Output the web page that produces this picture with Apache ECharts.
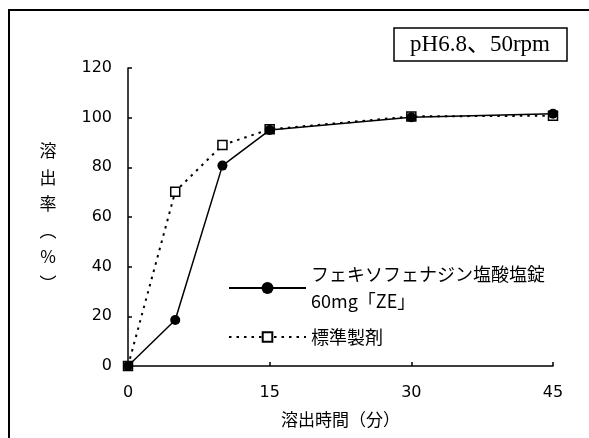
<!DOCTYPE html>
<html>
<head>
<meta charset="utf-8">
<script src="https://cdn.jsdelivr.net/npm/echarts@6/dist/echarts.min.js"></script>
<style>
html,body{margin:0;padding:0;background:#fff;}
#chart{width:589px;height:438px;}
</style>
</head>
<body>
<div id="chart"></div>
<script>
var timePoints = [0, 5, 10, 15, 30, 45];
var testValues = [0, 18.5, 80.7, 95.0, 100.2, 101.6];
var refValues = [0, 70.2, 89.0, 95.3, 100.5, 100.8];
var xTicks = [0, 15, 30, 45];
var yTicks = [0, 20, 40, 60, 80, 100, 120];
var testName = 'フェキソフェナジン塩酸塩錠60mg「ZE」';
var testLegendLabel = 'フェキソフェナジン塩酸塩錠\n60mg「ZE」';
var refName = '標準製剤';
var conditionText = 'pH6.8、50rpm';
var xAxisName = '溶出時間（分）';
var yAxisName = '溶\n出\n率\n︵\n%\n︶';

function pairs(xs, ys) { return xs.map(function (x, i) { return [x, ys[i]]; }); }

var chart = echarts.init(document.getElementById('chart'), null, {renderer: 'canvas'});
var cjk = "'Noto Sans CJK JP', sans-serif";
var numFont = "'DejaVu Sans', sans-serif";

chart.setOption({
  animation: false,
  backgroundColor: '#fff',
  grid: {left: 128, right: 36, top: 68, bottom: 72, containLabel: false},
  xAxis: {
    type: 'value', min: xTicks[0], max: xTicks[xTicks.length - 1], interval: 15,
    name: xAxisName, nameLocation: 'middle', nameGap: 45,
    nameTextStyle: {fontFamily: cjk, fontSize: 17, color: '#000'},
    axisLine: {lineStyle: {color: '#000', width: 1.5}},
    axisTick: {inside: true, length: 4, lineStyle: {color: '#000', width: 1.5}},
    axisLabel: {fontFamily: numFont, fontSize: 16, color: '#000', margin: 19},
    splitLine: {show: false}
  },
  yAxis: {
    type: 'value', min: yTicks[0], max: yTicks[yTicks.length - 1], interval: 20,
    name: yAxisName, nameLocation: 'middle', nameGap: 80, nameRotate: 0,
    nameTextStyle: {fontFamily: cjk, fontSize: 17, color: '#000', lineHeight: 26.6, align: 'center', verticalAlign: 'middle'},
    axisLine: {show: true, lineStyle: {color: '#000', width: 1.5}},
    axisTick: {show: true, inside: true, length: 4, lineStyle: {color: '#000', width: 1.5}},
    axisLabel: {fontFamily: numFont, fontSize: 16, color: '#000', margin: 16},
    splitLine: {show: false}
  },
  legend: [
    {
      data: [testName], orient: 'vertical', left: 228, top: 247.5, padding: 0,
      itemWidth: 77, itemHeight: 15, itemGap: 0,
      formatter: function () { return testLegendLabel; },
      textStyle: {fontFamily: cjk, fontSize: 18, color: '#000', lineHeight: 27, padding: [27, 0, 0, 0]}
    },
    {
      data: [refName], orient: 'vertical', left: 228, top: 326.5, padding: 0,
      itemWidth: 77, itemHeight: 12, itemGap: 0,
      textStyle: {fontFamily: cjk, fontSize: 18, color: '#000', lineHeight: 21}
    }
  ],
  series: [
    {
      name: refName, type: 'line', data: pairs(timePoints, refValues),
      symbol: 'rect', symbolSize: 9,
      lineStyle: {color: '#000', width: 2, type: [2.5, 5]},
      itemStyle: {color: '#fff', borderColor: '#000', borderWidth: 1.5},
      z: 2
    },
    {
      name: testName, type: 'line', data: pairs(timePoints, testValues),
      symbol: 'circle', symbolSize: 10,
      lineStyle: {color: '#000', width: 1.5, type: 'solid'},
      itemStyle: {color: '#000', borderColor: '#000', borderWidth: 0},
      z: 3
    }
  ],
  graphic: [
    {type: 'rect', shape: {x: 9, y: 10, width: 620, height: 460}, style: {fill: 'none', stroke: '#000', lineWidth: 2}, z: 0, silent: true},
    {type: 'rect', shape: {x: 394, y: 28, width: 173, height: 33}, style: {fill: '#fff', stroke: '#000', lineWidth: 1.5}, z: 10},
    {type: 'text', x: 480, y: 45, z: 11, style: {text: conditionText, fontFamily: "'Liberation Serif', 'Noto Sans CJK JP', serif", fontSize: 23, fill: '#000', align: 'center', verticalAlign: 'middle'}}
  ]
});
</script>
</body>
</html>
